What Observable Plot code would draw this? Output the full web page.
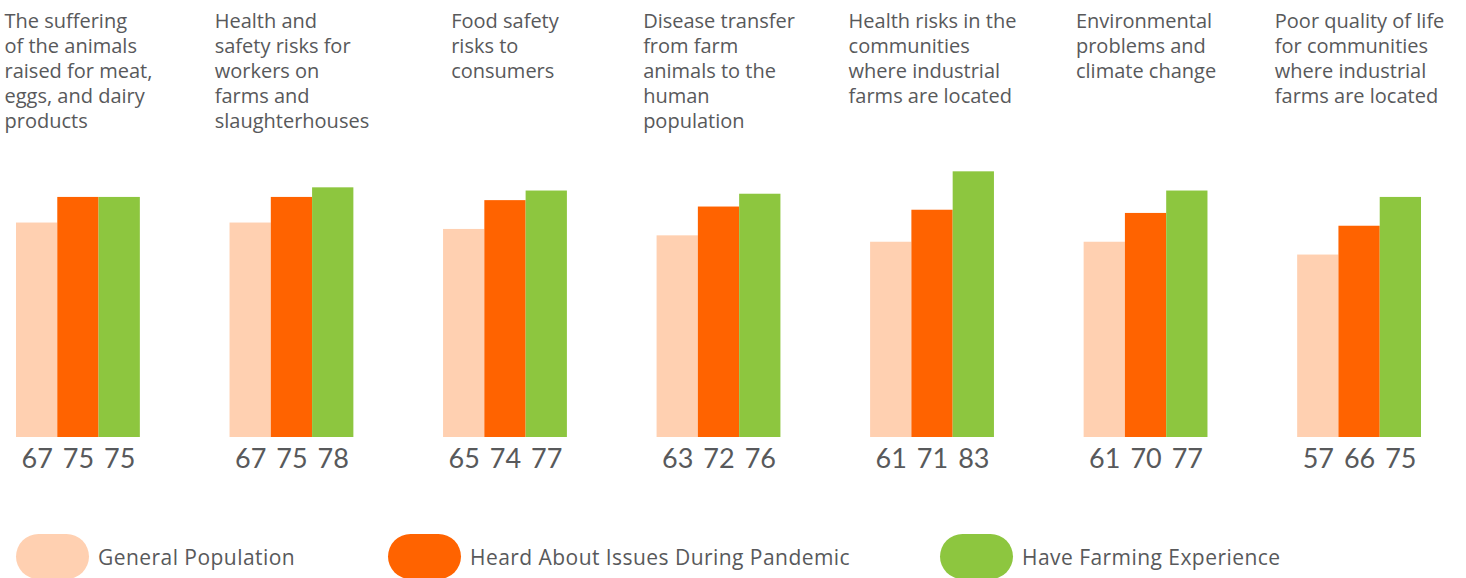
<!DOCTYPE html>
<html>
<head>
<meta charset="utf-8">
<script src="https://cdn.jsdelivr.net/npm/d3@7"></script>
<script src="https://cdn.jsdelivr.net/npm/@observablehq/plot@0.6"></script>
<style>
  body { margin: 0; background: #fff; font-family: "Open Sans", Lato, sans-serif; }
  #legend { position: relative; height: 58px; overflow: hidden; }
  .item { position: absolute; top: 14px; display: flex; align-items: center; }
  .sw { width: 73px; height: 45px; border-radius: 23px; }
  .lab { margin-left: 9px; font-size: 21px; letter-spacing: 0.45px; color: #58595B; font-family: "Open Sans", sans-serif; }
</style>
</head>
<body>
<div id="chart"></div>
<div id="legend"></div>
<script>
const categories = [
  "The suffering\nof the animals\nraised for meat,\neggs, and dairy\nproducts",
  "Health and\nsafety risks for\nworkers on\nfarms and\nslaughterhouses",
  "Food safety\nrisks to\nconsumers",
  "Disease transfer\nfrom farm\nanimals to the\nhuman\npopulation",
  "Health risks in the\ncommunities\nwhere industrial\nfarms are located",
  "Environmental\nproblems and\nclimate change",
  "Poor quality of life\nfor communities\nwhere industrial\nfarms are located"
];
const seriesNames = ["General Population", "Heard About Issues During Pandemic", "Have Farming Experience"];
const generalPopulation = [67, 67, 65, 63, 61, 61, 57];
const heardDuringPandemic = [75, 75, 74, 72, 71, 70, 66];
const farmingExperience = [75, 78, 77, 76, 83, 77, 75];
const seriesColors = ["#FFD0B1", "#FF6300", "#8DC63F"];

const seriesValues = [generalPopulation, heardDuringPandemic, farmingExperience];
const data = [];
categories.forEach((c, i) => {
  seriesNames.forEach((s, j) => data.push({category: c, series: s, value: seriesValues[j][i]}));
});
const titles = categories.map(c => ({category: c}));

const chart = Plot.plot({
  width: 1466,
  height: 520,
  marginLeft: 16,
  marginRight: 45,
  marginTop: 10,
  marginBottom: 83,
  style: {fontFamily: "'Open Sans', Lato, sans-serif", color: "#58595B", background: "#fff"},
  fx: {domain: categories, paddingInner: 0.42, paddingOuter: 0, round: false, axis: null, label: null},
  x: {domain: seriesNames, padding: 0, round: false, axis: null},
  y: {domain: [0, 133.4], axis: null},
  color: {domain: seriesNames, range: seriesColors},
  marks: [
    Plot.barY(data, {fx: "category", x: "series", y: "value", fill: "series"}),
    Plot.text(data, {fx: "category", x: "series", y: 0, text: d => String(d.value),
      dy: 22, lineAnchor: "middle", fontSize: 27, fill: "#58595B", fontWeight: 400,
      fontFamily: "Lato, sans-serif"}),
    Plot.text(titles, {fx: "category", text: "category", frameAnchor: "top",
      textAnchor: "start", lineAnchor: "top", lineHeight: 1.25, fontSize: 20,
      fill: "#58595B"})
  ]
});
document.getElementById("chart").append(chart);

// center each left-aligned title block over its group
chart.querySelectorAll("text").forEach(t => {
  if (!t.querySelector("tspan")) return;
  const w = t.getBBox().width;
  const tr = t.getAttribute("transform") || "";
  t.setAttribute("transform", tr + ` translate(${-w / 2},0)`);
});

const legendLeft = [16, 388, 940];
const legend = document.getElementById("legend");
seriesNames.forEach((s, i) => {
  const item = document.createElement("div");
  item.className = "item";
  item.style.left = legendLeft[i] + "px";
  item.innerHTML = `<div class="sw" style="background:${seriesColors[i]}"></div><span class="lab">${s}</span>`;
  legend.append(item);
});
</script>
</body>
</html>
